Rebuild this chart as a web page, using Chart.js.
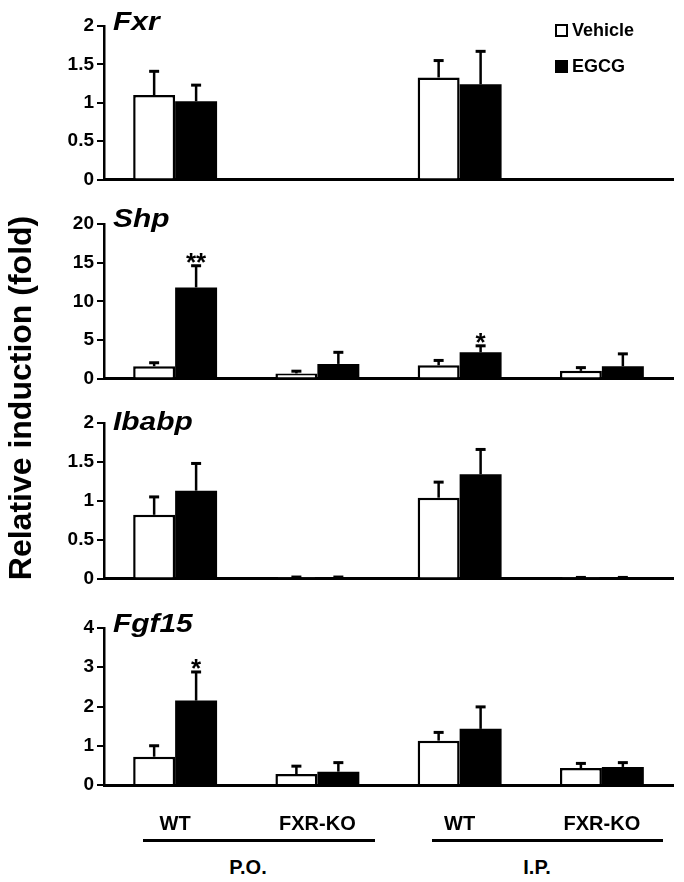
<!DOCTYPE html>
<html>
<head>
<meta charset="utf-8">
<script src="https://cdn.jsdelivr.net/npm/chart.js@4.4.0/dist/chart.umd.min.js"></script>
<style>
  body { margin: 0; background: #fff; }
  #wrap { position: relative; width: 684px; height: 882px; font-family: "Liberation Sans", Arial, sans-serif; color: #000; }
  canvas { position: absolute; left: 0; }
  .gene { position: absolute; left: 113px; font: italic bold 26px/26px "Liberation Sans", Arial, sans-serif;
    transform: scaleX(1.15); transform-origin: left center; }
  .legend { position: absolute; left: 555px; font: bold 18px/18px "Liberation Sans", Arial, sans-serif; display: flex; align-items: center; }
  .legend span.box { width: 9px; height: 9px; border: 2px solid #000; margin-right: 4px; display: inline-block; }
  .ytitle { position: absolute; width: 460px; left: -210px; top: 382px; text-align: center;
    font: bold 32px/32px "Liberation Sans", Arial, sans-serif; transform: rotate(-90deg); }
  .route { position: absolute; top: 856px; width: 100px; text-align: center; font: bold 20px/22px "Liberation Sans", Arial, sans-serif; }
  .bracket { position: absolute; top: 839px; height: 3px; background: #000; }
</style>
</head>
<body>
<div id="wrap">
  <canvas id="fxrCanvas" width="684" height="188" style="top:6px"></canvas>
  <canvas id="shpCanvas" width="684" height="189" style="top:204px"></canvas>
  <canvas id="ibabpCanvas" width="684" height="190" style="top:403px"></canvas>
  <canvas id="fgf15Canvas" width="684" height="227" style="top:608px"></canvas>

  <div class="gene" style="top:8px">Fxr</div>
  <div class="gene" style="top:205px">Shp</div>
  <div class="gene" style="top:408px">Ibabp</div>
  <div class="gene" style="top:610px">Fgf15</div>

  <div class="legend" style="top:21px"><span class="box" style="background:#fff"></span><span id="leg0"></span></div>
  <div class="legend" style="top:57px"><span class="box" style="background:#000"></span><span id="leg1"></span></div>

  <div class="ytitle">Relative induction (fold)</div>

  <div class="bracket" style="left:143px; width:232px"></div>
  <div class="bracket" style="left:432px; width:231px"></div>
  <div class="route" id="route0" style="left:198px"></div>
  <div class="route" id="route1" style="left:487px"></div>
</div>

<script>
const groups = ["WT", "FXR-KO", "WT", "FXR-KO"];
const routes = ["P.O.", "I.P."];
const seriesNames = ["Vehicle", "EGCG"];

// Fxr
const fxrVehicle = [1.1, null, 1.33, null];
const fxrVehicleSd = [0.31, 0, 0.22, 0];
const fxrEgcg = [1.02, null, 1.24, null];
const fxrEgcgSd = [0.21, 0, 0.43, 0];
const fxrStars = ["", "", "", ""];
const fxrTicks = [0, 0.5, 1, 1.5, 2];

// Shp
const shpVehicle = [1.6, 0.67, 1.72, 1.0];
const shpVehicleSd = [0.45, 0.29, 0.63, 0.42];
const shpEgcg = [11.8, 1.9, 3.4, 1.6];
const shpEgcgSd = [2.8, 1.5, 0.84, 1.6];
const shpStars = ["**", "", "*", ""];
const shpTicks = [0, 5, 10, 15, 20];

// Ibabp
const ibabpVehicle = [0.82, 0.01, 1.04, 0.01];
const ibabpVehicleSd = [0.23, 0.01, 0.2, 0.005];
const ibabpEgcg = [1.13, 0.01, 1.34, 0.01];
const ibabpEgcgSd = [0.35, 0.01, 0.32, 0.005];
const ibabpStars = ["", "", "", ""];
const ibabpTicks = [0, 0.5, 1, 1.5, 2];

// Fgf15
const fgf15Vehicle = [0.72, 0.28, 1.13, 0.43];
const fgf15VehicleSd = [0.28, 0.2, 0.21, 0.12];
const fgf15Egcg = [2.15, 0.34, 1.43, 0.46];
const fgf15EgcgSd = [0.73, 0.23, 0.56, 0.11];
const fgf15Stars = ["*", "", "", ""];
const fgf15Ticks = [0, 1, 2, 3, 4];

const FONT = "'Liberation Sans', Arial, sans-serif";

// draws upper error bars and significance stars above the bars
const errorBars = {
  id: "errorBars",
  afterDatasetsDraw(chart) {
    const ctx = chart.ctx;
    const y = chart.scales.y;
    ctx.save();
    ctx.strokeStyle = "#000";
    ctx.fillStyle = "#000";
    chart.data.datasets.forEach((ds, i) => {
      const meta = chart.getDatasetMeta(i);
      meta.data.forEach((bar, j) => {
        const v = ds.data[j];
        if (v === null) return;
        const top = y.getPixelForValue(v + ds.sd[j]);
        ctx.lineWidth = 2.5;
        ctx.beginPath();
        ctx.moveTo(bar.x, bar.y);
        ctx.lineTo(bar.x, top);
        ctx.stroke();
        ctx.lineWidth = 3;
        ctx.beginPath();
        ctx.moveTo(bar.x - 5, top);
        ctx.lineTo(bar.x + 5, top);
        ctx.stroke();
        if (ds.stars && ds.stars[j]) {
          ctx.font = "bold 26px " + FONT;
          ctx.textAlign = "center";
          ctx.textBaseline = "alphabetic";
          ctx.fillText(ds.stars[j], bar.x, top + 5);
        }
      });
    });
    ctx.restore();
  },
};

function makePanel(id, vehicle, vehicleSd, egcg, egcgSd, stars, ticks, showX) {
  const ctx = document.getElementById(id).getContext("2d");
  new Chart(ctx, {
    type: "bar",
    data: {
      labels: groups,
      datasets: [
        {
          label: seriesNames[0],
          data: vehicle,
          sd: vehicleSd,
          backgroundColor: "#fff",
          borderColor: "#000",
          borderWidth: 2.5,
        },
        {
          label: seriesNames[1],
          data: egcg,
          sd: egcgSd,
          stars: stars,
          backgroundColor: "#000",
          borderColor: "#000",
          borderWidth: 0,
        },
      ],
    },
    options: {
      responsive: false,
      animation: false,
      devicePixelRatio: 1,
      layout: { padding: { top: 20, right: 11, bottom: 0, left: 0 } },
      datasets: { bar: { categoryPercentage: 0.59, barPercentage: 1 } },
      plugins: {
        legend: { display: false },
        tooltip: { enabled: false },
      },
      scales: {
        x: {
          grid: { display: false, drawTicks: false },
          border: { display: true, color: "#000", width: 3 },
          ticks: {
            display: showX,
            color: "#000",
            padding: 27,
            font: { family: FONT, size: 20, weight: "bold" },
          },
          afterFit(s) { s.height = showX ? 50 : 10; },
        },
        y: {
          min: ticks[0],
          max: ticks[ticks.length - 1],
          afterBuildTicks(s) { s.ticks = ticks.map(v => ({ value: v })); },
          grid: { drawOnChartArea: false, drawTicks: true, tickLength: 7, color: "#000", lineWidth: 2 },
          border: { display: true, color: "#000", width: 2.5 },
          ticks: {
            color: "#000",
            padding: 3,
            font: { family: FONT, size: 19, weight: "bold" },
            callback: v => String(v),
          },
          afterFit(s) { s.width = 104; },
        },
      },
    },
    plugins: [errorBars],
  });
}

document.getElementById("leg0").textContent = seriesNames[0];
document.getElementById("leg1").textContent = seriesNames[1];
document.getElementById("route0").textContent = routes[0];
document.getElementById("route1").textContent = routes[1];

makePanel("fxrCanvas", fxrVehicle, fxrVehicleSd, fxrEgcg, fxrEgcgSd, fxrStars, fxrTicks, false);
makePanel("shpCanvas", shpVehicle, shpVehicleSd, shpEgcg, shpEgcgSd, shpStars, shpTicks, false);
makePanel("ibabpCanvas", ibabpVehicle, ibabpVehicleSd, ibabpEgcg, ibabpEgcgSd, ibabpStars, ibabpTicks, false);
makePanel("fgf15Canvas", fgf15Vehicle, fgf15VehicleSd, fgf15Egcg, fgf15EgcgSd, fgf15Stars, fgf15Ticks, true);
</script>
</body>
</html>
